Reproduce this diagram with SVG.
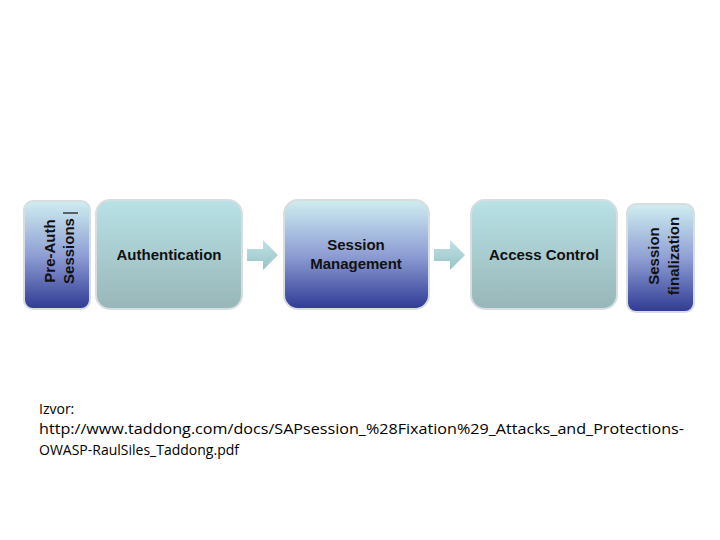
<svg xmlns="http://www.w3.org/2000/svg" width="720" height="540" viewBox="0 0 720 540">
<defs>
<linearGradient id="teal" x1="0" y1="0" x2="0" y2="1"><stop offset="0" stop-color="#b8e2e6"/><stop offset="1" stop-color="#98b6b8"/></linearGradient>
<linearGradient id="blue" x1="0" y1="0" x2="0" y2="1"><stop offset="0" stop-color="#cfeef0"/><stop offset="0.5" stop-color="#8f9fd4"/><stop offset="1" stop-color="#2f3a94"/></linearGradient>
<linearGradient id="arr" x1="0" y1="0" x2="0" y2="1"><stop offset="0" stop-color="#bfe3e6"/><stop offset="1" stop-color="#98c2c6"/></linearGradient>
<style>
.box{stroke:#d8dde0;stroke-width:2}
.lbl{font-family:"Liberation Sans",Arial,sans-serif;font-weight:bold;font-size:15px;fill:#111;text-anchor:middle}
.src{font-family:"Open Sans","Liberation Sans",sans-serif;font-size:14px;fill:#000}
</style>
</defs>
<rect width="720" height="540" fill="#fff"/>
<g id="connectors">
<path d="M247,249 H263 V240 L278,255 L263,270 V261 H247 Z" fill="url(#arr)"/>
<path d="M434,249 H450 V240 L465,255 L450,270 V261 H434 Z" fill="url(#arr)"/>
</g>
<g id="preauth"><rect class="box" x="24" y="201" width="66" height="108" rx="9" fill="url(#blue)"/>
<text class="lbl" transform="translate(55,251) rotate(-90)">Pre-Auth</text>
<text class="lbl" transform="translate(74,251) rotate(-90)">Sessions</text>
<line x1="63" y1="213" x2="78" y2="213" stroke="#111" stroke-width="1.2"/></g>
<g id="auth"><rect class="box" x="96" y="200" width="146" height="109" rx="14" fill="url(#teal)"/>
<text class="lbl" x="169" y="260">Authentication</text></g>
<g id="sessmgmt"><rect class="box" x="284" y="200" width="145" height="109" rx="14" fill="url(#blue)"/>
<text class="lbl" x="356" y="250">Session</text><text class="lbl" x="356" y="269">Management</text></g>
<g id="access"><rect class="box" x="471" y="200" width="146" height="109" rx="14" fill="url(#teal)"/>
<text class="lbl" x="544" y="260">Access Control</text></g>
<g id="final"><rect class="box" x="627" y="204" width="67" height="108" rx="9" fill="url(#blue)"/>
<text class="lbl" transform="translate(659,256) rotate(-90)">Session</text>
<text class="lbl" transform="translate(679,256) rotate(-90)">finalization</text></g>
<g id="source">
<text class="src" x="39" y="414">Izvor:</text>
<text class="src" x="39" y="434" textLength="645" lengthAdjust="spacingAndGlyphs">http://www.taddong.com/docs/SAPsession_%28Fixation%29_Attacks_and_Protections-</text>
<text class="src" x="39" y="455">OWASP-RaulSiles_Taddong.pdf</text>
</g>
</svg>
